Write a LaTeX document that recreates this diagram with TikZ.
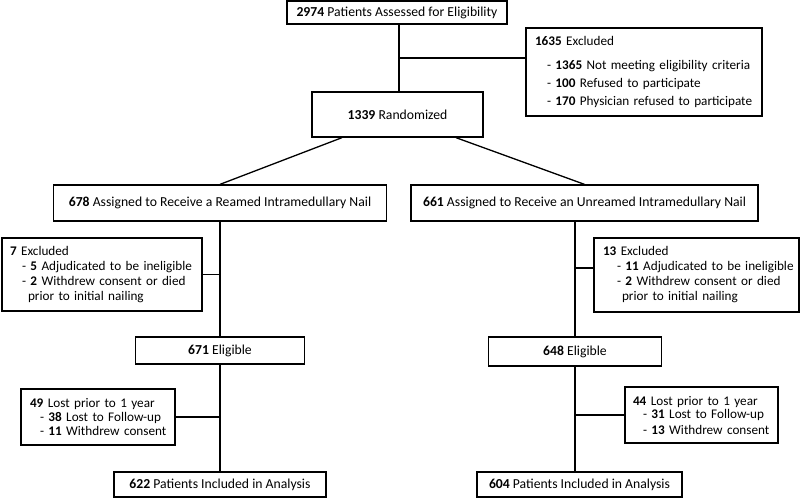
\documentclass[tikz,border=0pt]{standalone}
\usepackage{fontspec}
\setmainfont{Carlito}
\usetikzlibrary{calc}

\begin{document}
\begin{tikzpicture}[x=1pt, y=-1pt, line width=1.3pt,
	box/.style={draw, align=center, inner sep=0pt, font=\fontsize{13.7}{15}\selectfont},
	listbox/.style={draw, align=left, inner ysep=0pt, font=\fontsize{13.2}{15}\selectfont}]
	\useasboundingbox (0,0) rectangle (800,499);

	% enrolment
	\node[box, minimum width=220, minimum height=23] (assess) at (397,12.5) {\textbf{2974} Patients Assessed for Eligibility};
	\node[box, minimum width=171, minimum height=45] (rand) at (397.5,114.5) {\textbf{1339} Randomized};
	\node[listbox, text width=218, inner xsep=9, minimum height=88] (excl) at (644,72)
		{\mbox{\textbf{1635} Excluded}\\[9pt]
		\mbox{\hspace*{12pt}- \textbf{1365} Not meeting eligibility criteria}\\[3pt]
		\mbox{\hspace*{12pt}- \textbf{100} Refused to participate}\\[3pt]
		\mbox{\hspace*{12pt}- \textbf{170} Physician refused to participate}};

	% reamed arm
	\node[box, minimum width=333, minimum height=36] (reamed) at (220,203) {\textbf{678} Assigned to Receive a Reamed Intramedullary Nail};
	\node[listbox, text width=184, inner xsep=8, minimum height=73] (exclL) at (102,274.5)
		{\mbox{\textbf{7} Excluded}\\
		\mbox{\hspace*{12pt}- \textbf{5} Adjudicated to be ineligible}\\
		\mbox{\hspace*{12pt}- \textbf{2} Withdrew consent or died}\\
		\mbox{\hspace*{18pt}prior to initial nailing}};
	\node[box, minimum width=169, minimum height=27] (eligL) at (220,350.5) {\textbf{671} Eligible};
	\node[listbox, text width=136, inner xsep=9, minimum height=56] (lostL) at (98,417)
		{\mbox{\textbf{49} Lost prior to 1 year}\\[-1pt]
		\mbox{\hspace*{10pt}- \textbf{38} Lost to Follow-up}\\[-1pt]
		\mbox{\hspace*{10pt}- \textbf{11} Withdrew consent}};
	\node[box, minimum width=212, minimum height=25] (finalL) at (220,484.5) {\textbf{622} Patients Included in Analysis};

	% unreamed arm
	\node[box, minimum width=347, minimum height=36] (unreamed) at (584.5,203) {\textbf{661} Assigned to Receive an Unreamed Intramedullary Nail};
	\node[listbox, text width=187, inner xsep=9, minimum height=74] (exclR) at (696.5,275)
		{\mbox{\textbf{13} Excluded}\\
		\mbox{\hspace*{14pt}- \textbf{11} Adjudicated to be ineligible}\\
		\mbox{\hspace*{14pt}- \textbf{2} Withdrew consent or died}\\
		\mbox{\hspace*{19pt}prior to initial nailing}};
	\node[box, minimum width=173, minimum height=29] (eligR) at (575,351.5) {\textbf{648} Eligible};
	\node[listbox, text width=137, inner xsep=8, minimum height=56] (lostR) at (701.5,415)
		{\mbox{\textbf{44} Lost prior to 1 year}\\[-2pt]
		\mbox{\hspace*{10pt}- \textbf{31} Lost to Follow-up}\\[1pt]
		\mbox{\hspace*{10pt}- \textbf{13} Withdrew consent}};
	\node[box, minimum width=205, minimum height=25] (finalR) at (579.5,484.5) {\textbf{604} Patients Included in Analysis};

	% connectors
	\coordinate (spine) at (399,58);
	\draw (assess.south -| spine) -- (rand.north -| spine);
	\draw (spine) -- (spine -| excl.west);
	\draw ($(rand.south)+(-55.5,0)$) -- (reamed.north);
	\draw ($(rand.south)+(58.5,0)$) -- (unreamed.north);

	\draw (reamed.south) -- (eligL.north);
	\draw (eligL.south) -- (finalL.north);
	\draw (exclL.east) -- (exclL.east -| reamed.south);
	\draw (lostL.east) -- (lostL.east -| eligL.south);

	\coordinate (jR) at (575,268);
	\draw (unreamed.south -| eligR.north) -- (eligR.north);
	\draw (eligR.south) -- (eligR.south |- finalR.north);
	\draw (jR) -- (jR -| exclR.west);
	\draw (lostR.west) -- (lostR.west -| eligR.south);
\end{tikzpicture}
\end{document}
